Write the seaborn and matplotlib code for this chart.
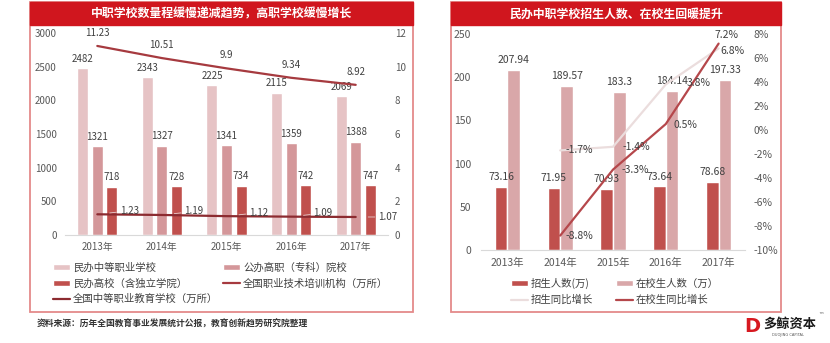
import numpy as np
import pandas as pd
import matplotlib
matplotlib.use("Agg")
import matplotlib.pyplot as plt
import seaborn as sns
from matplotlib.patches import Rectangle, Patch
from matplotlib.lines import Line2D
from matplotlib.ticker import FuncFormatter

# ---------------- data ----------------
years = ["2013年", "2014年", "2015年", "2016年", "2017年"]

# left panel
minban_zhongzhi = [2482, 2343, 2225, 2115, 2069]       # 民办中等职业学校
gongban_gaozhi = [1321, 1327, 1341, 1359, 1388]         # 公办高职（专科）院校
minban_gaoxiao = [718, 728, 734, 742, 747]              # 民办高校（含独立学院）
peixun_jigou = [11.23, 10.51, 9.9, 9.34, 8.92]          # 全国职业技术培训机构（万所）
zhongzhi_xuexiao = [1.23, 1.19, 1.12, 1.09, 1.07]       # 全国中等职业教育学校（万所）
left_series = ["民办中等职业学校", "公办高职（专科）院校", "民办高校（含独立学院）"]
left_lines = ["全国职业技术培训机构（万所）", "全国中等职业教育学校（万所）"]

# right panel
zhaosheng = [73.16, 71.95, 70.93, 73.64, 78.68]         # 招生人数(万)
zaixiao = [207.94, 189.57, 183.3, 184.14, 197.33]       # 在校生人数（万）
zhaosheng_yoy = [None, -1.7, -1.4, 3.8, 6.8]            # 招生同比增长 (%)
zaixiao_yoy = [None, -8.8, -3.3, 0.5, 7.2]              # 在校生同比增长 (%)
right_series = ["招生人数(万)", "在校生人数（万）"]
right_lines = ["招生同比增长", "在校生同比增长"]

title_left = "中职学校数量程缓慢递减趋势，高职学校缓慢增长"
title_right = "民办中职学校招生人数、在校生回暖提升"
source = "资料来源：历年全国教育事业发展统计公报，教育创新趋势研究院整理"

# ---------------- style ----------------
sns.set_style("white")
plt.rcParams["font.family"] = ["Noto Sans CJK SC", "DejaVu Sans"]

C_LIGHT = "#E6C3C5"
C_MID = "#D4979A"
C_RED = "#C0504D"
C_LINE1 = "#A63A3F"
C_LINE2 = "#8C2B30"
C_PINK = "#D9A7A9"
C_LLINE = "#EBDDDD"
C_DLINE = "#B5474B"
TXT = "#404040"
TICK = "#595959"
TITLE_RED = "#D0161E"
BORDER = "#E48A8A"

W, H = 830, 343
fig = plt.figure(figsize=(W / 100, H / 100), dpi=100)


def fx(x):
    return x / W


def fy(y):
    return 1 - y / H


def panel(x0, x1, y0, y1, title):
    fig.patches.append(Rectangle((fx(x0), fy(y1)), (x1 - x0) / W, (y1 - y0) / H,
                                 transform=fig.transFigure, fill=False,
                                 ec=BORDER, lw=1.3, zorder=0))
    fig.patches.append(Rectangle((fx(x0), fy(y0 + 23)), (x1 - x0) / W, 23 / H,
                                 transform=fig.transFigure, fc=TITLE_RED,
                                 ec=TITLE_RED, lw=1.0, zorder=1))
    fig.text(fx((x0 + x1) / 2), fy(y0 + 12), title, color="white",
             fontsize=8.6, fontweight="bold", ha="center", va="center")


panel(30, 413, 2, 312, title_left)
panel(451, 781, 2, 312, title_right)

# ---------------- left chart ----------------
ax1 = fig.add_axes([fx(65), fy(235), 323 / W, 202 / H])
df_l = pd.DataFrame({
    "year": years * 3,
    "series": [left_series[0]] * 5 + [left_series[1]] * 5 + [left_series[2]] * 5,
    "value": minban_zhongzhi + gongban_gaozhi + minban_gaoxiao,
})
sns.barplot(data=df_l, x="year", y="value", hue="series", hue_order=left_series,
            palette=[C_LIGHT, C_MID, C_RED], width=0.675, gap=0.24,
            legend=False, ax=ax1, saturation=1)
for cont in ax1.containers:
    ax1.bar_label(cont, fmt="%g", padding=3, fontsize=7, color=TXT)
ax1.set_ylim(0, 3000)
ax1.set_yticks(range(0, 3001, 500))
ax1.set_xlim(-0.5, 4.5)
ax1.set_xlabel("")
ax1.set_ylabel("")
for s in ["top", "right", "left"]:
    ax1.spines[s].set_visible(False)
ax1.spines["bottom"].set_color("#D9D9D9")
ax1.tick_params(axis="both", length=0, labelsize=7, colors=TICK)
ax1.tick_params(axis="y", pad=6)
ax1.tick_params(axis="x", pad=5)

ax1b = ax1.twinx()
xs = np.arange(len(years))
sns.lineplot(x=xs, y=peixun_jigou, color=C_LINE1, lw=1.6, ax=ax1b, legend=False)
sns.lineplot(x=xs, y=zhongzhi_xuexiao, color=C_LINE2, lw=1.6, ax=ax1b, legend=False)
ax1b.set_ylim(0, 12)
ax1b.set_yticks(range(0, 13, 2))
ax1b.set_xlim(-0.5, 4.5)
for s in ax1b.spines.values():
    s.set_visible(False)
ax1b.tick_params(axis="both", length=0, labelsize=7, colors=TICK, pad=5)
for i, v in enumerate(peixun_jigou):
    ax1b.annotate(f"{v:g}", (xs[i], v), xytext=(0, 9.5), textcoords="offset points",
                  ha="center", va="center", fontsize=7, color=TXT)
for i, v in enumerate(zhongzhi_xuexiao):
    dy = 0 if i == len(years) - 1 else 2.5
    ax1b.annotate(f"{v:g}", (xs[i], v), xytext=(23, dy), textcoords="offset points",
                  ha="center", va="center", fontsize=7, color=TXT,
                  arrowprops=dict(arrowstyle="-", color="#E8CFCF", lw=0.6,
                                  shrinkA=0, shrinkB=9))

h_left = [Patch(fc=C_LIGHT), Patch(fc=C_RED),
          Line2D([], [], color=C_LINE2, lw=1.6),
          Patch(fc=C_MID), Line2D([], [], color=C_LINE1, lw=1.6)]
l_left = [left_series[0], left_series[2], left_lines[1], left_series[1], left_lines[0]]
fig.legend(h_left, l_left, loc="upper left", bbox_to_anchor=(fx(53), fy(262)),
           ncol=2, frameon=False, fontsize=7.5, labelcolor=TXT,
           handlelength=1.6, handleheight=0.55, handletextpad=0.3,
           columnspacing=0.5, labelspacing=0.55, borderpad=0, borderaxespad=0)

fig.text(fx(37), fy(324), source, fontsize=6.3, color="#333333",
         ha="left", va="center", fontweight="bold")

# ---------------- right chart ----------------
ax2 = fig.add_axes([fx(481), fy(250), 264 / W, 216 / H])
df_r = pd.DataFrame({
    "year": years * 2,
    "series": [right_series[0]] * 5 + [right_series[1]] * 5,
    "value": zhaosheng + zaixiao,
})
sns.barplot(data=df_r, x="year", y="value", hue="series", hue_order=right_series,
            palette=[C_RED, C_PINK], width=0.48, gap=0, legend=False, ax=ax2,
            saturation=1)
for cont in ax2.containers:
    ax2.bar_label(cont, fmt="%g", padding=3.5, fontsize=7.5, color=TXT)
ax2.set_ylim(0, 250)
ax2.set_yticks(range(0, 251, 50))
ax2.set_xlim(-0.5, 4.5)
ax2.set_xlabel("")
ax2.set_ylabel("")
for s in ["top", "right", "left"]:
    ax2.spines[s].set_visible(False)
ax2.spines["bottom"].set_color("#D9D9D9")
ax2.tick_params(axis="both", length=0, labelsize=7.5, colors=TICK)
ax2.tick_params(axis="y", pad=7)
ax2.tick_params(axis="x", pad=6)

ax2b = ax2.twinx()
zs = pd.Series(zhaosheng_yoy, dtype=float) / 100
zx = pd.Series(zaixiao_yoy, dtype=float) / 100
sns.lineplot(x=xs, y=zs.values, color=C_LLINE, lw=1.6, ax=ax2b, legend=False)
sns.lineplot(x=xs, y=zx.values, color=C_DLINE, lw=1.6, ax=ax2b, legend=False)
ax2b.set_ylim(-0.10, 0.08)
ax2b.set_yticks(np.arange(-0.10, 0.081, 0.02))
ax2b.yaxis.set_major_formatter(FuncFormatter(lambda v, p: f"{round(v * 100):d}%"))
ax2b.set_xlim(-0.5, 4.5)
for s in ax2b.spines.values():
    s.set_visible(False)
ax2b.tick_params(axis="both", length=0, labelsize=7.5, colors=TICK, pad=6)

off_zs = {1: (14, 0), 2: (17, 0), 3: (24, 1), 4: (10, -2)}
off_zx = {1: (14, 0), 2: (16, 0), 3: (14, -1), 4: (6, 6)}
for i, v in enumerate(zhaosheng_yoy):
    if v is None:
        continue
    ax2b.annotate(f"{v:.1f}%", (xs[i], v / 100), xytext=off_zs[i],
                  textcoords="offset points", ha="center", va="center",
                  fontsize=7.5, color=TXT)
for i, v in enumerate(zaixiao_yoy):
    if v is None:
        continue
    ax2b.annotate(f"{v:.1f}%", (xs[i], v / 100), xytext=off_zx[i],
                  textcoords="offset points", ha="center", va="center",
                  fontsize=7.5, color=TXT)

h_right = [Patch(fc=C_RED), Line2D([], [], color=C_LLINE, lw=1.6),
           Patch(fc=C_PINK), Line2D([], [], color=C_DLINE, lw=1.6)]
l_right = [right_series[0], right_lines[0], right_series[1], right_lines[1]]
fig.legend(h_right, l_right, loc="upper left", bbox_to_anchor=(fx(511), fy(278)),
           ncol=2, frameon=False, fontsize=7.5, labelcolor=TXT,
           handlelength=1.6, handleheight=0.55, handletextpad=0.3,
           columnspacing=2.2, labelspacing=0.55, borderpad=0, borderaxespad=0)

# ---------------- logo ----------------
fig.text(fx(744), fy(326), "D", fontsize=14, fontweight="bold", color="#D71920",
         ha="left", va="center", family="DejaVu Sans")
fig.text(fx(763), fy(324), "多鲸资本", fontsize=9.5, fontweight="bold",
         color="#1A1A1A", ha="left", va="center")
fig.text(fx(788), fy(335), "DUOJING CAPITAL", fontsize=2.6, color="#555555",
         ha="center", va="center", family="DejaVu Sans")
fig.text(fx(818), fy(316), "™", fontsize=4, color="#555555",
         ha="left", va="center", family="DejaVu Sans")

fig.savefig("out.png", dpi=100)
